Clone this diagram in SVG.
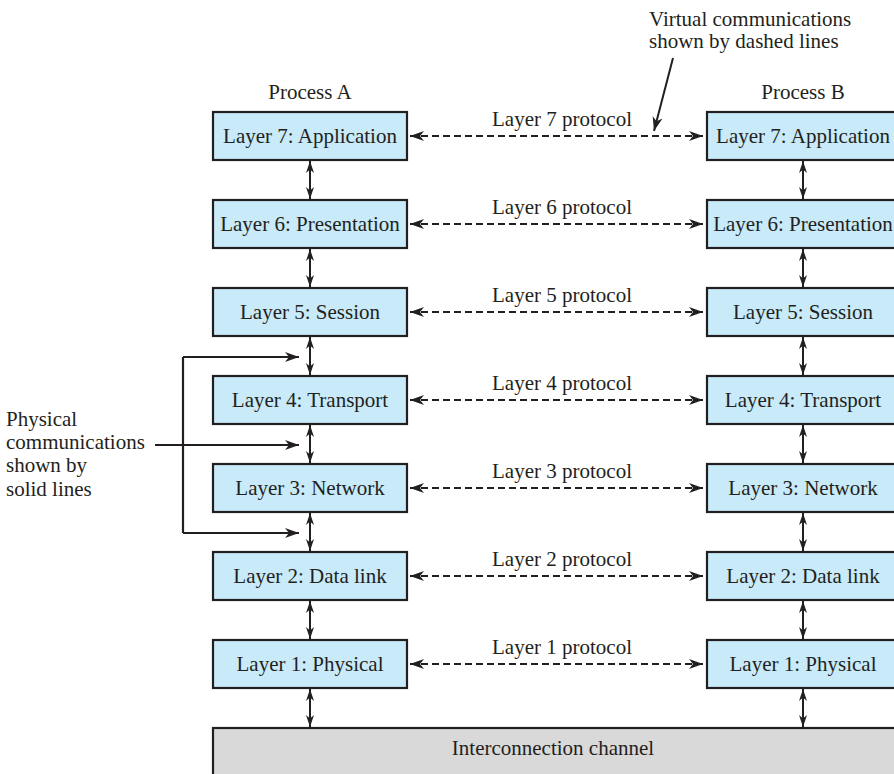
<svg xmlns="http://www.w3.org/2000/svg" width="894" height="774" viewBox="0 0 894 774">
<style>
  text { font-family: "Liberation Serif", "Times New Roman", serif; font-size: 21px; fill: #231f20; }
  .mid { text-anchor: middle; }
  .box { fill: #c8eaf9; stroke: #231f20; stroke-width: 2.2; }
  .chan { fill: #d9d9d9; stroke: #231f20; stroke-width: 2.2; }
  .dash { fill: none; stroke: #231f20; stroke-width: 2; stroke-dasharray: 7 4; marker-start: url(#ah); marker-end: url(#ah); }
  .vert { fill: none; stroke: #231f20; stroke-width: 2; marker-start: url(#vh); marker-end: url(#vh); }
  .solid { fill: none; stroke: #231f20; stroke-width: 2.2; }
  .sarr { fill: none; stroke: #231f20; stroke-width: 2.2; marker-end: url(#ah); }
  .pt { fill: none; stroke: #231f20; stroke-width: 2; marker-end: url(#ah); }
</style>
<defs>
  <marker id="ah" markerUnits="userSpaceOnUse" markerWidth="16" markerHeight="12" refX="14" refY="5" orient="auto-start-reverse">
    <path d="M0,0 L14,5 L0,10 L4,5 z" fill="#231f20"/>
  </marker>
  <marker id="vh" markerUnits="userSpaceOnUse" markerWidth="14" markerHeight="10" refX="12" refY="4" orient="auto-start-reverse">
    <path d="M0,0 L12,4 L0,8 L3.5,4 z" fill="#231f20"/>
  </marker>
</defs>

<text class="mid" x="310" y="99">Process A</text>
<text class="mid" x="803" y="99">Process B</text>
<text x="649" y="26">Virtual communications</text>
<text x="649" y="48">shown by dashed lines</text>
<text x="6" y="426">Physical</text>
<text x="6" y="449">communications</text>
<text x="6" y="472">shown by</text>
<text x="6" y="496">solid lines</text>

<g id="a7"><rect class="box" x="213" y="112" width="194" height="48"/><text class="mid" x="310" y="143">Layer 7: Application</text></g>
<g id="a6"><rect class="box" x="213" y="200" width="194" height="48"/><text class="mid" x="310" y="231">Layer 6: Presentation</text></g>
<g id="a5"><rect class="box" x="213" y="288" width="194" height="48"/><text class="mid" x="310" y="319">Layer 5: Session</text></g>
<g id="a4"><rect class="box" x="213" y="376" width="194" height="48"/><text class="mid" x="310" y="407">Layer 4: Transport</text></g>
<g id="a3"><rect class="box" x="213" y="464" width="194" height="48"/><text class="mid" x="310" y="495">Layer 3: Network</text></g>
<g id="a2"><rect class="box" x="213" y="552" width="194" height="48"/><text class="mid" x="310" y="583">Layer 2: Data link</text></g>
<g id="a1"><rect class="box" x="213" y="640" width="194" height="48"/><text class="mid" x="310" y="671">Layer 1: Physical</text></g>

<g id="b7"><rect class="box" x="707" y="112" width="194" height="48"/><text class="mid" x="803" y="143">Layer 7: Application</text></g>
<g id="b6"><rect class="box" x="707" y="200" width="194" height="48"/><text class="mid" x="803" y="231">Layer 6: Presentation</text></g>
<g id="b5"><rect class="box" x="707" y="288" width="194" height="48"/><text class="mid" x="803" y="319">Layer 5: Session</text></g>
<g id="b4"><rect class="box" x="707" y="376" width="194" height="48"/><text class="mid" x="803" y="407">Layer 4: Transport</text></g>
<g id="b3"><rect class="box" x="707" y="464" width="194" height="48"/><text class="mid" x="803" y="495">Layer 3: Network</text></g>
<g id="b2"><rect class="box" x="707" y="552" width="194" height="48"/><text class="mid" x="803" y="583">Layer 2: Data link</text></g>
<g id="b1"><rect class="box" x="707" y="640" width="194" height="48"/><text class="mid" x="803" y="671">Layer 1: Physical</text></g>

<g id="channel"><rect class="chan" x="213" y="728" width="700" height="60"/><text class="mid" x="553" y="755">Interconnection channel</text></g>

<g id="connectors">
  <path class="dash" d="M410,136 H703"/>
  <path class="dash" d="M410,224 H703"/>
  <path class="dash" d="M410,312 H703"/>
  <path class="dash" d="M410,400 H703"/>
  <path class="dash" d="M410,488 H703"/>
  <path class="dash" d="M410,576 H703"/>
  <path class="dash" d="M410,664 H703"/>
  <text class="mid" x="562" y="126">Layer 7 protocol</text>
  <text class="mid" x="562" y="214">Layer 6 protocol</text>
  <text class="mid" x="562" y="302">Layer 5 protocol</text>
  <text class="mid" x="562" y="390">Layer 4 protocol</text>
  <text class="mid" x="562" y="478">Layer 3 protocol</text>
  <text class="mid" x="562" y="566">Layer 2 protocol</text>
  <text class="mid" x="562" y="654">Layer 1 protocol</text>

  <path class="vert" d="M310,161 V199"/>
  <path class="vert" d="M310,249 V287"/>
  <path class="vert" d="M310,337 V375"/>
  <path class="vert" d="M310,425 V463"/>
  <path class="vert" d="M310,513 V551"/>
  <path class="vert" d="M310,601 V639"/>
  <path class="vert" d="M310,689 V727"/>
  <path class="vert" d="M803,161 V199"/>
  <path class="vert" d="M803,249 V287"/>
  <path class="vert" d="M803,337 V375"/>
  <path class="vert" d="M803,425 V463"/>
  <path class="vert" d="M803,513 V551"/>
  <path class="vert" d="M803,601 V639"/>
  <path class="vert" d="M803,689 V727"/>

  <path class="solid" d="M183,357 V533"/>
  <path class="sarr" d="M183,357 H299"/>
  <path class="sarr" d="M155,445 H299"/>
  <path class="sarr" d="M183,533 H299"/>

  <path class="pt" d="M673,58 L654,131"/>
</g>
</svg>
